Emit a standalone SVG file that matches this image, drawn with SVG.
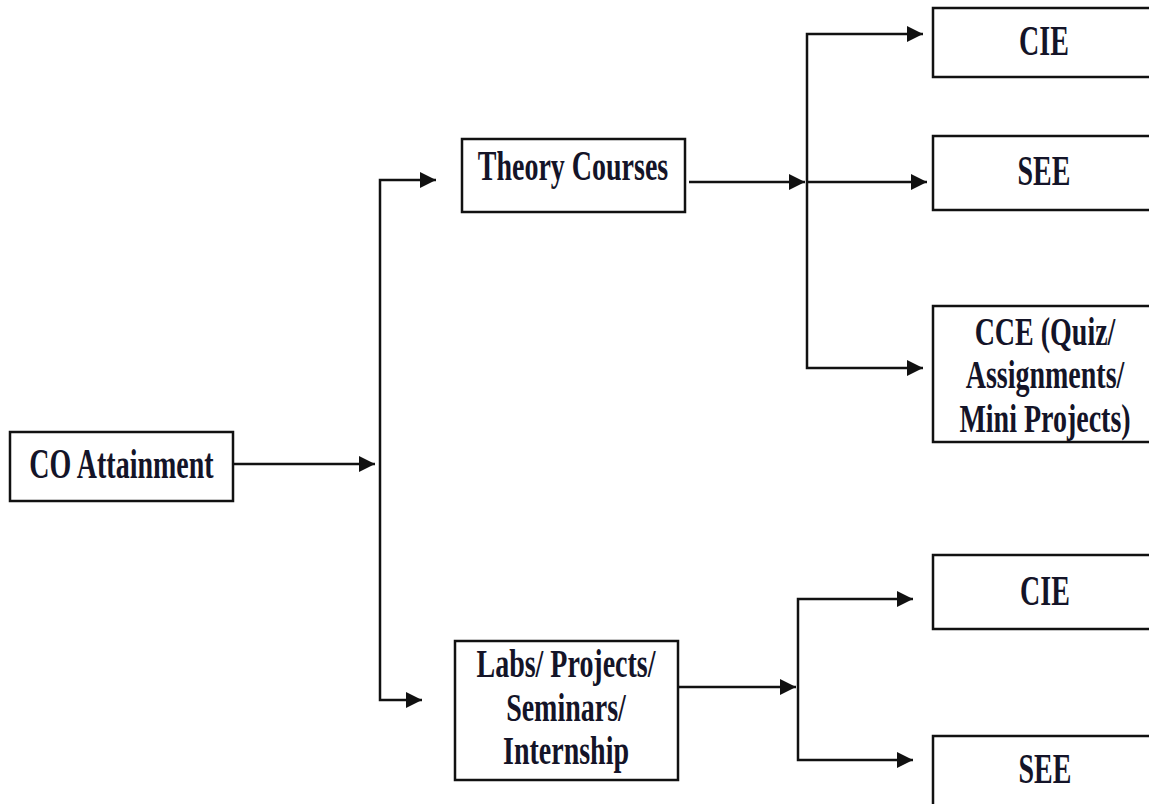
<svg xmlns="http://www.w3.org/2000/svg" width="1149" height="804" viewBox="0 0 1149 804">
<style>
.box{fill:#fff;stroke:#111;stroke-width:2.5}
.lbl{font-family:"Liberation Serif","Times New Roman",serif;font-weight:bold;font-size:28px;fill:#141428;text-anchor:middle}
.con{fill:none;stroke:#111;stroke-width:2.5;marker-end:url(#ah)}
</style>
<defs>
<marker id="ah" viewBox="0 0 10 10" refX="10" refY="5" markerWidth="16" markerHeight="16" markerUnits="userSpaceOnUse" orient="auto">
<path d="M0,0 L10,5 L0,10 z" fill="#111"/>
</marker>
</defs>
<rect width="1149" height="804" fill="#fff"/>
<g id="connectors">
<path class="con" d="M233,464 H375"/>
<path class="con" d="M380,464 V180 H436"/>
<path class="con" d="M380,464 V700 H422"/>
<path class="con" d="M689,182 H805"/>
<path class="con" d="M807,182 V34 H923"/>
<path class="con" d="M807,182 H927"/>
<path class="con" d="M807,182 V368 H923"/>
<path class="con" d="M678,687 H796"/>
<path class="con" d="M798,687 V599 H913"/>
<path class="con" d="M798,687 V760 H913"/>
</g>
<g id="co-attainment">
<rect class="box" x="10" y="432" width="223" height="69"/>
<text class="lbl" transform="translate(121.5,478) scale(1,1.5)">CO Attainment</text>
</g>
<g id="theory-courses">
<rect class="box" x="462" y="139" width="223" height="73"/>
<text class="lbl" transform="translate(573,180) scale(1,1.5)">Theory Courses</text>
</g>
<g id="labs">
<rect class="box" x="455" y="641" width="223" height="139"/>
<text class="lbl" transform="translate(566,677) scale(1,1.4)">Labs/ Projects/</text>
<text class="lbl" transform="translate(566,721) scale(1,1.4)">Seminars/</text>
<text class="lbl" transform="translate(566,764) scale(1,1.4)">Internship</text>
</g>
<g id="theory-cie">
<rect class="box" x="933" y="8" width="240" height="69"/>
<text class="lbl" transform="translate(1044,55) scale(1,1.5)">CIE</text>
</g>
<g id="theory-see">
<rect class="box" x="933" y="136" width="240" height="74"/>
<text class="lbl" transform="translate(1044,185) scale(1,1.5)">SEE</text>
</g>
<g id="theory-cce">
<rect class="box" x="933" y="306" width="240" height="136"/>
<text class="lbl" transform="translate(1045,345) scale(1,1.4)">CCE (Quiz/</text>
<text class="lbl" transform="translate(1045,388) scale(1,1.4)">Assignments/</text>
<text class="lbl" transform="translate(1045,432) scale(1,1.4)">Mini Projects)</text>
</g>
<g id="labs-cie">
<rect class="box" x="933" y="555" width="240" height="74"/>
<text class="lbl" transform="translate(1045,605) scale(1,1.5)">CIE</text>
</g>
<g id="labs-see">
<rect class="box" x="933" y="736" width="240" height="80"/>
<text class="lbl" transform="translate(1045,783) scale(1,1.5)">SEE</text>
</g>
</svg>
